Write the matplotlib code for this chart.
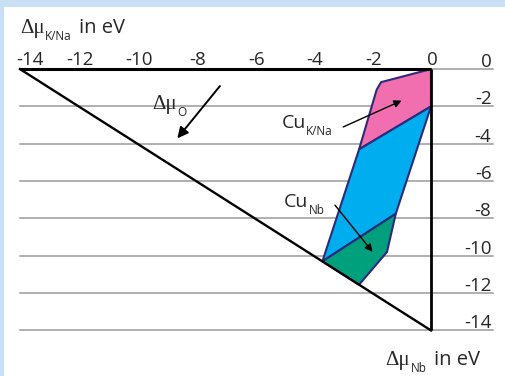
import numpy as np
import matplotlib.pyplot as plt
from matplotlib.patches import Polygon, Rectangle
from matplotlib.transforms import offset_copy

plt.rcParams['font.family'] = ['Open Sans', 'DejaVu Sans']

# chemical potential axes (eV)
x_ticks = [-14, -12, -10, -8, -6, -4, -2, 0]
y_ticks = [0, -2, -4, -6, -8, -10, -12, -14]

# stable regions, corners
pink_x = [0, -1.7, -1.85, -2.45, 0]
pink_y = [0, -0.7, -1.1, -4.3, -2]
blue_x = [-2.45, 0, -1.2, -3.7]
blue_y = [-4.3, -2, -7.75, -10.3]
green_x = [-3.7, -1.2, -1.5, -2.45]
green_y = [-10.3, -7.75, -9.8, -11.55]

# triangle of the allowed region
tri_x = [-14, 0, 0, -14]
tri_y = [0, 0, -14, 0]

txt_col = '#262626'
sub_size = 8.5
tick_size = 13.5


def rich_text(ax, x, y, pieces):
    """Write pieces of text one after the other: (string, size, family, drop in pt, gap in pt)"""
    fig = ax.figure
    renderer = fig.canvas.get_renderer()
    dx = 0
    for s, size, family, drop, gap in pieces:
        dx += gap
        tr = offset_copy(ax.transData, fig=fig, x=dx, y=-drop, units='points')
        t = ax.text(x, y, s, fontsize=size, family=family, va='baseline', ha='left',
                    color=txt_col, transform=tr, zorder=4)
        dx += t.get_window_extent(renderer).width * 72.0 / fig.dpi


def delta_mu(sub, tail=''):
    pieces = [('Δμ', 15, 'Liberation Serif', 0, 0), (sub, sub_size, 'Open Sans', 5, 0.5)]
    if tail:
        pieces.append((tail, 14.5, 'Open Sans', 0, 5))
    return pieces


fig = plt.figure(figsize=(5.05, 3.76), dpi=100, facecolor='#c9e0f4')
ax = fig.add_axes([0, 0, 1, 1])
ax.set_xlim(-14.68, 2.52)
ax.set_ylim(-16.44, 3.70)
ax.axis('off')

# white panel with light blue rim on top and left
ax.add_patch(Rectangle((0, 0), 1, 1, transform=fig.transFigure, facecolor='white',
                       edgecolor='none', zorder=0))
ax.add_patch(Rectangle((-14.68, -16.44), 0.136, 20.2, facecolor='#c9e0f4',
                       edgecolor='none', zorder=0.5))
ax.add_patch(Rectangle((-14.68, 3.33), 17.3, 0.5, facecolor='#c9e0f4',
                       edgecolor='none', zorder=0.5))

for y in y_ticks:
    ax.plot([-14, 2.1], [y, y], color='#9a9a9a', lw=1.1, zorder=1)
    ax.text(2.06, y + 0.12, str(y), ha='right', va='baseline', fontsize=tick_size, color=txt_col)

for i, x in enumerate(x_ticks):
    if i == 0:
        ax.text(x - 0.12, 0.22, str(x), ha='left', va='baseline', fontsize=tick_size, color=txt_col)
    else:
        ax.text(x + 0.05, 0.22, str(x), ha='center', va='baseline', fontsize=tick_size, color=txt_col)

edge = '#2d2a7c'
ax.add_patch(Polygon(np.column_stack([pink_x, pink_y]), closed=True, facecolor='#f16fae',
                     edgecolor=edge, lw=1.5, joinstyle='round', zorder=2))
ax.add_patch(Polygon(np.column_stack([blue_x, blue_y]), closed=True, facecolor='#00aeef',
                     edgecolor=edge, lw=1.5, joinstyle='round', zorder=2))
ax.add_patch(Polygon(np.column_stack([green_x, green_y]), closed=True, facecolor='#00a07c',
                     edgecolor=edge, lw=1.5, joinstyle='round', zorder=2))

ax.plot(tri_x[:2], tri_y[:2], color='black', lw=2.2, zorder=3, solid_capstyle='butt')
ax.plot(tri_x[1:3], tri_y[1:3], color='black', lw=2.0, zorder=3, solid_capstyle='butt')
ax.plot(tri_x[2:], tri_y[2:], color='black', lw=1.7, zorder=3)

# axis titles
rich_text(ax, -14.0, 1.95, delta_mu('K/Na', 'in eV'))
rich_text(ax, -1.55, -15.85, delta_mu('Nb', 'in eV'))

# oxygen direction
rich_text(ax, -9.5, -2.15, delta_mu('O'))
ax.annotate('', xy=(-8.64, -3.71), xytext=(-7.19, -0.91),
            arrowprops=dict(arrowstyle='-|>', color='black', lw=1.4, mutation_scale=16,
                            shrinkA=0, shrinkB=0), zorder=4)

# Cu on the A site and on the B site
rich_text(ax, -5.1, -3.16, [('Cu', 14, 'Open Sans', 0, 0), ('K/Na', sub_size, 'Open Sans', 5, 0.5)])
ax.annotate('', xy=(-1.0, -1.69), xytext=(-2.99, -3.10),
            arrowprops=dict(arrowstyle='-|>', color='black', lw=1.0, mutation_scale=11,
                            shrinkA=0, shrinkB=0), zorder=4)
rich_text(ax, -5.0, -7.39, [('Cu', 14, 'Open Sans', 0, 0), ('Nb', sub_size, 'Open Sans', 5, 0.5)])
ax.annotate('', xy=(-1.99, -9.79), xytext=(-3.27, -7.29),
            arrowprops=dict(arrowstyle='-|>', color='black', lw=1.0, mutation_scale=11,
                            shrinkA=0, shrinkB=0), zorder=4)

fig.savefig('out.png', dpi=100, facecolor=fig.get_facecolor())
